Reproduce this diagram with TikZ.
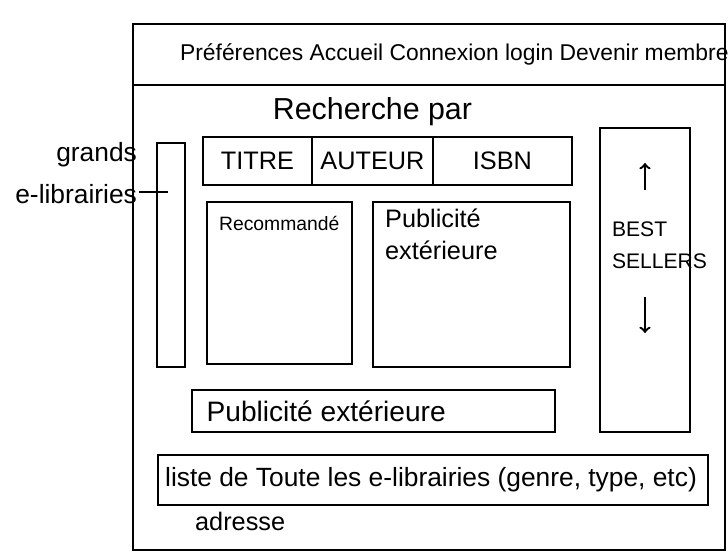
\documentclass[tikz,border=0pt]{standalone}
\usepackage{fontspec}
\setmainfont{Liberation Sans}
\usetikzlibrary{positioning}

\begin{document}
\begin{tikzpicture}[x=0.02cm, y=-0.02cm, node distance=1mm,
    every node/.style={font=\large},
    box/.style={draw, line width=1.3pt, inner sep=0pt, outer sep=0pt},
    txt/.style={inner sep=1pt, align=left}]
    \useasboundingbox (0,0) rectangle (728,554);

    % page and menu bar
    \node[box, minimum width=11.84cm, minimum height=1.22cm] (menu) at (429,54.5) {};
    \node[box, minimum width=11.84cm, minimum height=10.52cm] (page) at (429,287) {};
    \node[txt, right=0.9cm of menu.west, font=\fontsize{13}{16}\selectfont] (menutxt) {Préférences Accueil Connexion login Devenir membre};

    % search
    \node[box, minimum width=2.18cm, minimum height=0.96cm, font=\Large] (titre) at (257.5,161) {TITRE};
    \node[box, minimum width=2.42cm, minimum height=0.96cm, font=\Large, right=0pt of titre] (auteur) {AUTEUR};
    \node[box, minimum width=2.78cm, minimum height=0.96cm, font=\Large, right=0pt of auteur] (isbn) {ISBN};
    \node[above=0.1cm of auteur, font=\LARGE] (recherche) {Recherche par};

    % side bar
    \node[box, minimum width=0.56cm, minimum height=4.48cm] (grands) at (171,255) {};
    \node[txt, align=right, anchor=east, font=\fontsize{15}{18}\selectfont] (grandslbl) at (139,173) {grands\\[6pt]e-librairies};
    \coordinate (grandshook) at (168,192);
    \draw[line width=1.3pt] (grandshook -| grandslbl.east) -- (grandshook);

    % content
    \node[box, minimum width=2.9cm, minimum height=3.24cm] (reco) at (279.5,283) {};
    \node[txt, below right=0.25cm and 0.2cm of reco.north west, font=\fontsize{11}{13}\selectfont] (recotxt) {Recommandé};
    \node[box, minimum width=3.94cm, minimum height=3.3cm] (pubbox) at (471.5,284.5) {};
    \node[txt, below right=0.1cm and 0.2cm of pubbox.north west, font=\Large] (pubtxt) {Publicité\\extérieure};

    % best sellers
    \node[box, minimum width=1.8cm, minimum height=6.08cm] (best) at (645,280) {};
    \node[txt, anchor=west] (besttxt) at (610,245) {BEST\\[4pt]SELLERS};
    \coordinate (upfrom) at (645,190);
    \coordinate (upto) at (645,163);
    \coordinate (downfrom) at (645,297);
    \coordinate (downto) at (645,333);
    \draw[->, line width=1.3pt] (upfrom) -- (upto);
    \draw[->, line width=1.3pt] (downfrom) -- (downto);

    % bottom
    \node[box, minimum width=7.26cm, minimum height=0.84cm] (pubbar) at (373.5,411) {};
    \node[txt, right=0.25cm of pubbar.west, font=\fontsize{16}{19}\selectfont] (pubbartxt) {Publicité extérieure};
    \node[box, minimum width=11cm, minimum height=1cm] (liste) at (433,480) {};
    \node[txt, right=0.1cm of liste.west, font=\fontsize{15}{18}\selectfont] (listetxt) {liste de Toute les e-librairies (genre, type, etc)};
    \node[txt, below right=0.1cm and 0.7cm of liste.south west, font=\Large] (adresse) {adresse};
  \end{tikzpicture}
\end{document}
